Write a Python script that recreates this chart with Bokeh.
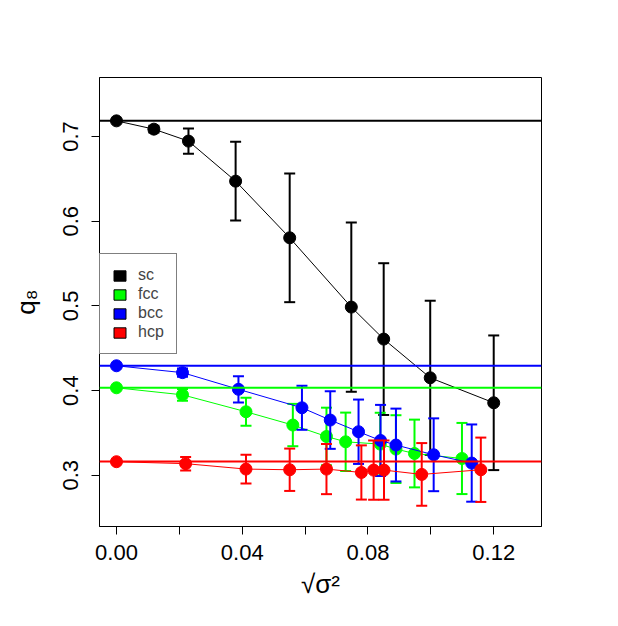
from bokeh.plotting import figure
from bokeh.models import (Span, Legend, LegendItem, FixedTicker, Range1d)
from bokeh.embed import file_html
from bokeh.resources import INLINE

# ---- data ----
sc_x = [0.0, 0.0119, 0.0229, 0.0379, 0.0551, 0.0747, 0.0850, 0.0998, 0.1200]
sc_y = [0.7185, 0.7087, 0.6946, 0.6473, 0.5804, 0.4986, 0.4608, 0.4151, 0.3856]
sc_e = [0.0, 0.004, 0.015, 0.0466, 0.076, 0.100, 0.0896, 0.091, 0.0795]

fcc_x = [0.0, 0.0210, 0.0412, 0.0561, 0.0668, 0.0729, 0.0839, 0.0889, 0.0948, 0.1099]
fcc_y = [0.4033, 0.3950, 0.3750, 0.3593, 0.3458, 0.3395, 0.3368, 0.3309, 0.3257, 0.3198]
fcc_e = [0.0, 0.007, 0.0165, 0.025, 0.034, 0.0345, 0.037, 0.040, 0.040, 0.042]

bcc_x = [0.0, 0.0210, 0.0388, 0.0590, 0.0680, 0.0770, 0.0840, 0.0889, 0.1009, 0.1130]
bcc_y = [0.4293, 0.4212, 0.4015, 0.3797, 0.3652, 0.3514, 0.3411, 0.3357, 0.3242, 0.3144]
bcc_e = [0.0, 0.005, 0.0155, 0.026, 0.034, 0.038, 0.042, 0.043, 0.043, 0.0456]

hcp_x = [0.0, 0.0220, 0.0412, 0.0551, 0.0668, 0.0779, 0.0818, 0.0851, 0.0971, 0.1159]
hcp_y = [0.3160, 0.3137, 0.3073, 0.3065, 0.3073, 0.3033, 0.3061, 0.3061, 0.3010, 0.3065]
hcp_e = [0.0, 0.008, 0.017, 0.025, 0.0296, 0.032, 0.035, 0.035, 0.037, 0.038]

ref_lines = {"sc": 0.7185, "fcc": 0.4033, "bcc": 0.4293, "hcp": 0.3163}

names = ["sc", "fcc", "bcc", "hcp"]
colors = {"sc": "black", "fcc": "#00FF00", "bcc": "#0000FF", "hcp": "#FF0000"}
series = {"sc": (sc_x, sc_y, sc_e), "fcc": (fcc_x, fcc_y, fcc_e),
          "bcc": (bcc_x, bcc_y, bcc_e), "hcp": (hcp_x, hcp_y, hcp_e)}

x_ticks = [0.0, 0.02, 0.04, 0.06, 0.08, 0.10, 0.12]
x_tick_labels = {0.0: "0.00", 0.02: "", 0.04: "0.04", 0.06: "", 0.08: "0.08", 0.10: "", 0.12: "0.12"}
y_ticks = [0.3, 0.4, 0.5, 0.6, 0.7]
y_tick_labels = {0.3: "0.3", 0.4: "0.4", 0.5: "0.5", 0.6: "0.6", 0.7: "0.7"}

FONT = "Liberation Sans"
NAN = float("nan")

p = figure(width=602, height=610, output_backend="svg", toolbar_location=None,
           x_range=Range1d(-0.0054, 0.1352), y_range=Range1d(0.2395, 0.7697),
           min_border_left=99, min_border_right=61, min_border_top=77, min_border_bottom=84)
p.background_fill_color = "white"
p.border_fill_color = "white"
p.outline_line_color = "black"
p.outline_line_width = 1
p.xgrid.visible = False
p.ygrid.visible = False

for ax in (p.xaxis[0], p.yaxis[0]):
    ax.axis_line_color = "black"
    ax.major_tick_line_color = "black"
    ax.major_tick_out = 8
    ax.major_tick_in = 0
    ax.minor_tick_line_color = None
    ax.major_label_text_font = FONT
    ax.major_label_text_font_size = "22px"
    ax.major_label_text_color = "black"
    ax.axis_label_text_font = FONT
    ax.axis_label_text_font_size = "26px"
    ax.axis_label_text_font_style = "normal"
    ax.axis_label_text_color = "black"

p.xaxis.ticker = FixedTicker(ticks=x_ticks)
p.xaxis.major_label_overrides = x_tick_labels
p.xaxis.major_label_standoff = 10
p.xaxis.axis_label = "√σ²"
p.xaxis.axis_label_standoff = 6

p.yaxis.ticker = FixedTicker(ticks=y_ticks)
p.yaxis.major_label_overrides = y_tick_labels
p.yaxis.major_label_orientation = "vertical"
p.yaxis.major_label_standoff = 13
p.yaxis.axis_label = "q₈"
p.yaxis.axis_label_standoff = 20

for n in names:
    xs, ys, es = series[n]
    c = colors[n]
    p.line(xs, ys, line_color=c, line_width=1)
    ex = [x for x, e in zip(xs, es) if e > 0]
    up = [y + e for y, e in zip(ys, es) if e > 0]
    lo = [y - e for y, e in zip(ys, es) if e > 0]
    p.segment(x0=ex, y0=lo, x1=ex, y1=up, line_color=c, line_width=2)
    p.scatter(ex, up, marker="dash", size=11, line_color=c, line_width=2)
    p.scatter(ex, lo, marker="dash", size=11, line_color=c, line_width=2)
    p.scatter(xs, ys, marker="circle", size=12, fill_color=c, line_color=c)

for n in names:
    p.add_layout(Span(location=ref_lines[n], dimension="width",
                      line_color=colors[n], line_width=2))

items = []
for n in names:
    r = p.quad(left=[NAN], right=[NAN], top=[NAN], bottom=[NAN],
               fill_color=colors[n], line_color="black", line_width=1)
    items.append(LegendItem(label=n, renderers=[r]))

legend = Legend(items=items, location=(0, 172), orientation="vertical",
                glyph_width=15, glyph_height=13, label_height=13, spacing=1,
                padding=12, margin=0, label_standoff=11,
                label_text_font=FONT, label_text_font_size="16px",
                border_line_color="black", border_line_width=1,
                background_fill_color="white", background_fill_alpha=1.0)
p.add_layout(legend)

open("out.html", "w").write(file_html(p, INLINE))
